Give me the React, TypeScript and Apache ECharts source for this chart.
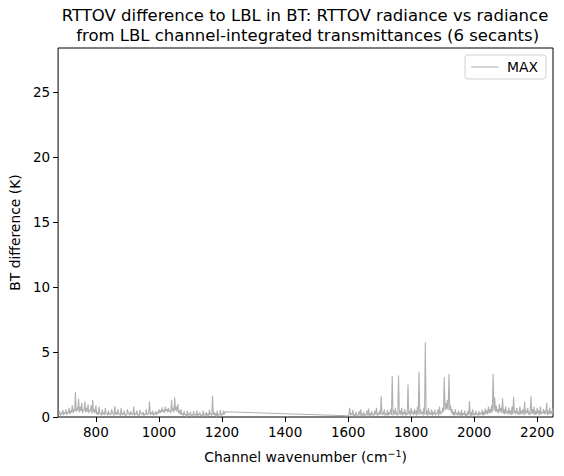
import React, { useEffect, useRef } from "react";
import * as echarts from "echarts";

// Channel sampling, window region (upper samples)
const wnA = [
  682, 685, 690, 695, 700, 705, 710, 715, 720, 725, 730, 735, 740, 745, 750, 755, 760, 765, 770, 775,
  780, 785, 790, 795, 800, 805, 810, 815, 820, 825, 830, 835, 840, 845, 850, 855, 860, 865, 870, 875,
  880, 885, 890, 895, 900, 905, 910, 915, 920, 925, 930, 935, 940, 945, 950, 955, 960, 965, 970, 975,
  980, 985, 990, 995, 1000, 1005, 1010, 1015, 1020, 1025, 1030, 1035, 1040, 1045, 1050, 1055, 1060,
  1065, 1070, 1075, 1080, 1085, 1090, 1095, 1100, 1105, 1110, 1115, 1120, 1125, 1130, 1135, 1140,
  1145, 1150, 1155, 1160, 1165, 1170, 1175, 1180, 1185, 1190, 1195, 1200, 1205, 1210,
];
const btA = [
  0.25, 0.45, 0.3, 0.55, 0.35, 0.6, 0.4, 0.7, 0.5, 0.9, 0.6, 1.9, 0.7, 1.4, 0.8, 1.1, 0.6, 1.2, 0.7, 1.0,
  0.5, 0.9, 1.3, 0.6, 0.9, 0.4, 0.8, 0.3, 0.6, 0.35, 0.7, 0.3, 0.5, 0.25, 0.6, 0.3, 0.85, 0.35, 0.6, 0.25,
  0.7, 0.3, 0.5, 0.2, 0.6, 0.3, 0.45, 0.25, 0.8, 0.3, 0.5, 0.2, 0.55, 0.3, 0.4, 0.2, 0.6, 0.3, 1.2, 0.35,
  0.5, 0.3, 0.45, 0.35, 0.6, 0.5, 0.75, 0.55, 0.8, 0.6, 0.7, 0.5, 1.3, 0.7, 1.5, 0.8, 1.0,
  0.5, 0.6, 0.3, 0.45, 0.2, 0.5, 0.25, 0.4, 0.15, 0.45, 0.2, 0.5, 0.25, 0.35, 0.15, 0.5,
  0.2, 0.4, 0.25, 0.55, 0.3, 1.65, 0.4, 0.3, 0.5, 0.2, 0.55, 0.25, 0.5, 0.4,
];
// window region (lower samples between the above)
const wnA2 = [
  687.5, 692.5, 697.5, 702.5, 707.5, 712.5, 717.5, 722.5, 727.5, 732.5, 737.5, 742.5, 747.5, 752.5,
  757.5, 762.5, 767.5, 772.5, 777.5, 782.5, 787.5, 792.5, 797.5, 802.5, 807.5, 812.5, 817.5, 822.5,
  827.5, 832.5, 837.5, 842.5, 847.5, 852.5, 857.5, 862.5, 867.5, 872.5, 877.5, 882.5, 887.5, 892.5,
  897.5, 902.5, 907.5, 912.5, 917.5, 922.5, 927.5, 932.5, 937.5, 942.5, 947.5, 952.5, 957.5, 962.5,
  967.5, 972.5, 977.5, 982.5, 987.5, 992.5, 997.5, 1002.5, 1007.5, 1012.5, 1017.5, 1022.5, 1027.5,
  1032.5, 1037.5, 1042.5, 1047.5, 1052.5, 1057.5, 1062.5, 1067.5, 1072.5, 1077.5, 1082.5, 1087.5,
  1092.5, 1097.5, 1102.5, 1107.5, 1112.5, 1117.5, 1122.5, 1127.5, 1132.5, 1137.5, 1142.5, 1147.5,
  1152.5, 1157.5, 1162.5, 1167.5, 1172.5, 1177.5, 1182.5, 1187.5, 1192.5, 1197.5, 1202.5, 1207.5,
];
const btA2 = [
  0.1, 0.2, 0.15, 0.25, 0.15, 0.3, 0.2,
  0.35, 0.3, 0.45, 0.4, 0.5, 0.35, 0.45, 0.3, 0.5, 0.35, 0.4, 0.3, 0.45, 0.25, 0.35, 0.3,
  0.2, 0.15, 0.25, 0.1, 0.2, 0.15, 0.25, 0.1, 0.2, 0.15, 0.3, 0.1, 0.2, 0.15, 0.25, 0.1, 0.15, 0.2, 0.1, 0.15,
  0.25, 0.1, 0.2, 0.15, 0.1, 0.2, 0.15, 0.1, 0.25, 0.15, 0.1, 0.2, 0.15, 0.25, 0.15, 0.2, 0.1, 0.2, 0.15, 0.25,
  0.3, 0.35, 0.4, 0.3, 0.45, 0.35, 0.4, 0.3, 0.45, 0.35, 0.5, 0.4, 0.3, 0.2,
  0.15, 0.1, 0.15, 0.05, 0.1, 0.15, 0.05, 0.1, 0.15, 0.1, 0.05, 0.15, 0.1, 0.05, 0.1, 0.15, 0.05, 0.1,
  0.15, 0.1, 0.15, 0.1, 0.05, 0.1, 0.15, 0.1, 0.15, 0.2,
];

// shortwave region (upper samples)
const wnB = [
  1600, 1605, 1610, 1615, 1620, 1625, 1630, 1635, 1640, 1645, 1650, 1655, 1660, 1665, 1670, 1675, 1680,
  1685, 1690, 1695, 1700, 1705, 1710, 1715, 1720, 1725, 1730, 1735, 1740, 1745, 1750, 1755, 1760, 1765,
  1770, 1775, 1780, 1785, 1790, 1795, 1800, 1805, 1810, 1815, 1820, 1825, 1830, 1835, 1840, 1845, 1850,
  1855, 1860, 1865, 1870, 1875, 1880, 1885, 1890, 1895, 1900, 1905, 1910, 1915, 1920, 1925, 1930, 1935,
  1940, 1945, 1950, 1955, 1960, 1965, 1970, 1975, 1980, 1985, 1990, 1995, 2000, 2005, 2010, 2015, 2020,
  2025, 2030, 2035, 2040, 2045, 2050, 2055, 2060, 2065, 2070, 2075, 2080, 2085, 2090, 2095, 2100, 2105,
  2110, 2115, 2120, 2125, 2130, 2135, 2140, 2145, 2150, 2155, 2160, 2165, 2170, 2175, 2180, 2185, 2190,
  2195, 2200, 2205, 2210, 2215, 2220, 2225, 2230, 2235, 2240, 2245, 2250,
];
const btB = [
  0.1, 0.7, 0.3, 0.55, 0.2, 0.4, 0.15, 0.45, 0.6, 0.25, 0.4, 0.2, 0.5, 0.65, 0.3, 0.45, 0.25,
  0.5, 0.7, 0.3, 0.5, 1.6, 0.4, 0.6, 0.3, 0.55, 0.35, 0.6, 3.15, 0.5, 0.7, 0.35, 3.2, 0.5,
  0.7, 0.4, 0.6, 0.35, 2.5, 0.5, 0.7, 0.4, 0.6, 0.5, 0.8, 3.5, 0.6, 0.4, 0.7, 5.75, 0.5,
  0.7, 0.35, 0.6, 0.4, 0.55, 0.3, 0.6, 0.8, 0.4, 0.7, 3.05, 1.1, 1.3, 3.3, 0.9, 0.6, 0.4,
  0.6, 0.3, 0.5, 0.35, 0.55, 0.3, 0.5, 0.25, 0.45, 1.23, 0.4, 0.6, 0.3, 0.5, 0.25, 0.45, 0.3,
  0.55, 0.4, 0.65, 0.5, 0.8, 0.6, 0.9, 3.3, 1.5, 0.9, 0.6, 1.0, 0.7, 1.44, 0.6, 0.8, 0.45,
  0.7, 0.5, 0.8, 1.56, 0.5, 0.7, 0.4, 0.8, 0.5, 0.6, 1.18, 0.5, 0.7, 0.4, 1.6, 0.6, 0.8,
  0.45, 0.7, 0.5, 0.8, 0.4, 0.6, 0.5, 1.07, 0.5, 0.7, 0.45, 0.65,
];
// shortwave region (lower samples between the above)
const wnB2 = [
  1602.5, 1607.5, 1612.5, 1617.5, 1622.5, 1627.5, 1632.5, 1637.5, 1642.5, 1647.5, 1652.5, 1657.5,
  1662.5, 1667.5, 1672.5, 1677.5, 1682.5, 1687.5, 1692.5, 1697.5, 1702.5, 1707.5, 1712.5, 1717.5,
  1722.5, 1727.5, 1732.5, 1737.5, 1742.5, 1747.5, 1752.5, 1757.5, 1762.5, 1767.5, 1772.5, 1777.5,
  1782.5, 1787.5, 1792.5, 1797.5, 1802.5, 1807.5, 1812.5, 1817.5, 1822.5, 1827.5, 1832.5, 1837.5,
  1842.5, 1847.5, 1852.5, 1857.5, 1862.5, 1867.5, 1872.5, 1877.5, 1882.5, 1887.5, 1892.5, 1897.5,
  1902.5, 1907.5, 1912.5, 1917.5, 1922.5, 1927.5, 1932.5, 1937.5, 1942.5, 1947.5, 1952.5, 1957.5,
  1962.5, 1967.5, 1972.5, 1977.5, 1982.5, 1987.5, 1992.5, 1997.5, 2002.5, 2007.5, 2012.5, 2017.5,
  2022.5, 2027.5, 2032.5, 2037.5, 2042.5, 2047.5, 2052.5, 2057.5, 2062.5, 2067.5, 2072.5, 2077.5,
  2082.5, 2087.5, 2092.5, 2097.5, 2102.5, 2107.5, 2112.5, 2117.5, 2122.5, 2127.5, 2132.5, 2137.5,
  2142.5, 2147.5, 2152.5, 2157.5, 2162.5, 2167.5, 2172.5, 2177.5, 2182.5, 2187.5, 2192.5, 2197.5,
  2202.5, 2207.5, 2212.5, 2217.5, 2222.5, 2227.5, 2232.5, 2237.5, 2242.5, 2247.5,
];
const btB2 = [
  0.2, 0.1, 0.15, 0.05, 0.1, 0.05, 0.15, 0.1, 0.05, 0.1, 0.05, 0.15, 0.1, 0.05, 0.1, 0.15, 0.1, 0.2, 0.1, 0.15,
  0.2, 0.15, 0.2, 0.1, 0.15, 0.1, 0.2, 0.15, 0.1, 0.2, 0.15, 0.1, 0.2, 0.15, 0.1, 0.2, 0.1, 0.15, 0.2, 0.1,
  0.25, 0.15, 0.2, 0.1, 0.2, 0.15, 0.25, 0.1, 0.2, 0.15, 0.1, 0.2, 0.15, 0.1, 0.2, 0.15, 0.25, 0.1, 0.2, 0.3,
  0.4, 0.5, 0.6, 0.55, 0.5, 0.3,
  0.15, 0.1, 0.2, 0.1, 0.15, 0.05, 0.1, 0.15, 0.05, 0.1, 0.15, 0.1, 0.05, 0.15, 0.1, 0.2, 0.1, 0.15, 0.2, 0.1,
  0.15, 0.25, 0.2, 0.3,
  0.3, 0.35, 0.5, 0.4, 0.35, 0.3, 0.4, 0.3, 0.25, 0.2, 0.3, 0.2, 0.25, 0.15, 0.2, 0.3, 0.2, 0.25, 0.15, 0.2,
  0.25, 0.15, 0.2, 0.3, 0.2, 0.15, 0.25, 0.2, 0.15, 0.2, 0.25, 0.15, 0.2, 0.3, 0.2, 0.25, 0.15, 0.2, 0.25, 0.2,
];

const xTicks = [800, 1000, 1200, 1400, 1600, 1800, 2000, 2200];
const yTicks = [0, 5, 10, 15, 20, 25];

const titleLines = [
  "RTTOV difference to LBL in BT: RTTOV radiance vs radiance",
  " from LBL channel-integrated transmittances (6 secants)",
];

const FONT = "DejaVu Sans";

export default function App() {
  const ref = useRef<HTMLDivElement>(null);
  useEffect(() => {
    document.body.style.margin = "0";
    const chart = echarts.init(ref.current!, null, { renderer: "svg" });
    const pts: number[][] = [];
    wnA.forEach((w, i) => pts.push([w, btA[i]]));
    wnA2.forEach((w, i) => pts.push([w, btA2[i]]));
    wnB.forEach((w, i) => pts.push([w, btB[i]]));
    wnB2.forEach((w, i) => pts.push([w, btB2[i]]));
    pts.sort((a, b) => a[0] - b[0]);
    chart.setOption({
      animation: false,
      backgroundColor: "#fff",
      textStyle: { fontFamily: FONT },
      grid: {
        left: 57,
        right: 11,
        top: 48,
        bottom: 59,
        show: true,
        borderColor: "#000",
        borderWidth: 1,
        backgroundColor: "transparent",
      },
      graphic: titleLines.map((t, i) => ({
        type: "text",
        x: 305,
        y: 15.5 + i * 19.5,
        style: {
          text: t,
          fontFamily: FONT,
          fontSize: 16.5,
          lineHeight: 17,
          fill: "#000",
          textAlign: "center",
          textVerticalAlign: "middle",
        },
      })),
      legend: {
        right: 18,
        top: 55,
        data: [{ name: "MAX", icon: "rect" }],
        itemWidth: 28,
        itemHeight: 1,
        itemGap: 8,
        padding: [5, 8, 5, 6],
        borderColor: "#d0d0d0",
        borderWidth: 1,
        borderRadius: 3,
        textStyle: { fontFamily: FONT, fontSize: 13.9, color: "#000", padding: [0, 0, 0, 3] },
      },
      xAxis: {
        type: "value",
        min: 680,
        max: 2250,
        splitLine: { show: false },
        axisLine: { show: false },
        axisTick: {
          show: true,
          customValues: xTicks,
          length: 5,
          lineStyle: { color: "#000", width: 1 },
        },
        axisLabel: {
          customValues: xTicks,
          formatter: (v: number) => String(v),
          fontFamily: FONT,
          fontSize: 13.5,
          color: "#000",
          margin: 8,
        },
        name: "Channel wavenumber (cm{sup|−1})",
        nameLocation: "middle",
        nameGap: 31,
        nameTextStyle: {
          fontFamily: FONT,
          fontSize: 13.9,
          color: "#000",
          rich: {
            sup: { fontSize: 9.5, fontFamily: FONT, color: "#000", padding: [0, 0, 7, 0] },
          },
        },
      },
      yAxis: {
        type: "value",
        min: 0,
        max: 28.4,
        splitLine: { show: false },
        axisLine: { show: false },
        axisTick: {
          show: true,
          customValues: yTicks,
          length: 5,
          lineStyle: { color: "#000", width: 1 },
        },
        axisLabel: {
          customValues: yTicks,
          formatter: (v: number) => String(v),
          fontFamily: FONT,
          fontSize: 13.5,
          color: "#000",
          margin: 8,
        },
        name: "BT difference (K)",
        nameLocation: "middle",
        nameGap: 33,
        nameTextStyle: { fontFamily: FONT, fontSize: 13.9, color: "#000" },
      },
      series: [
        {
          name: "MAX",
          type: "line",
          data: pts,
          symbol: "none",
          showSymbol: false,
          lineStyle: { color: "#b0b0b0", width: 1.1 },
          itemStyle: { color: "#b0b0b0" },
        },
      ],
    });
    return () => chart.dispose();
  }, []);
  return <div ref={ref} style={{ width: 564, height: 476 }} />;
}
